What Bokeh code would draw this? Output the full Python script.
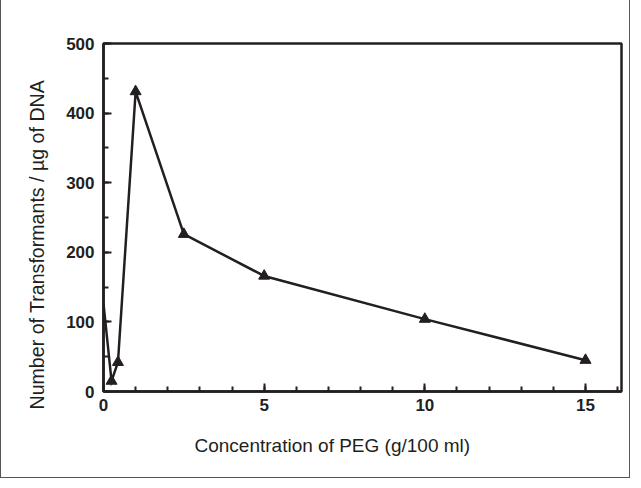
from bokeh.plotting import figure
from bokeh.models import Range1d, FixedTicker, Title, ColumnDataSource
from bokeh.embed import file_html
from bokeh.resources import INLINE

# Data
peg_conc = [0.25, 0.45, 1.0, 2.5, 5.0, 10.0, 15.0]
transformants = [15, 42, 431, 226, 166, 104, 45]
# the line enters from the left edge of the frame
lead_x = [0.0]
lead_y = [126]

x_major = [0, 5, 10, 15]
x_minor = list(range(0, 17))
y_major = [0, 100, 200, 300, 400, 500]
y_minor = list(range(0, 501, 50))

x_title = "Concentration of PEG (g/100 ml)"
y_title = "Number of Transformants / \u00b5g of DNA"

INK = "#231f20"
FONT = "Liberation Sans"

line_src = ColumnDataSource(dict(x=lead_x + peg_conc, y=lead_y + transformants))
pt_src = ColumnDataSource(dict(x=peg_conc, y=transformants))

p = figure(width=630, height=480, output_backend="svg", toolbar_location=None,
           x_range=Range1d(0, 16.12), y_range=Range1d(0, 500),
           min_border_left=102, min_border_right=10, min_border_top=44, min_border_bottom=88)
p.styles = {"border": "1px solid #555555", "box-sizing": "border-box", "margin-top": "-2px"}

p.grid.visible = False
p.outline_line_color = INK
p.outline_line_width = 2.5
p.background_fill_color = "white"
p.border_fill_color = "white"

p.line("x", "y", source=line_src, line_color=INK, line_width=2.5, line_join="miter")
p.scatter("x", "y", source=pt_src, marker="triangle", size=11, fill_color=INK, line_color=INK)

for ax in (p.xaxis[0], p.yaxis[0]):
    ax.axis_line_color = INK
    ax.axis_line_width = 2.5
    ax.major_tick_line_color = INK
    ax.minor_tick_line_color = INK
    ax.major_tick_line_width = 2
    ax.minor_tick_line_width = 2
    ax.major_tick_in = 8
    ax.major_tick_out = 0
    ax.minor_tick_in = 5
    ax.minor_tick_out = 0
    ax.major_label_text_font = FONT
    ax.major_label_text_font_style = "bold"
    ax.major_label_text_font_size = "17px"
    ax.major_label_text_color = INK

p.xaxis.ticker = FixedTicker(ticks=x_major, minor_ticks=x_minor)
p.yaxis.ticker = FixedTicker(ticks=y_major, minor_ticks=y_minor)
p.xaxis.major_label_standoff = 7
p.yaxis.major_label_standoff = 9

# axis titles as side-panel titles, offset along the frame edge
p.add_layout(Title(text=x_title, align="left", offset=91, standoff=38,
                   text_font=FONT, text_font_size="19px", text_font_style="normal",
                   text_color=INK), "below")
p.add_layout(Title(text=y_title, align="left", offset=-18, standoff=31,
                   text_font=FONT, text_font_size="19.6px", text_font_style="normal",
                   text_color=INK), "left")

open("out.html", "w").write(file_html(p, INLINE))
